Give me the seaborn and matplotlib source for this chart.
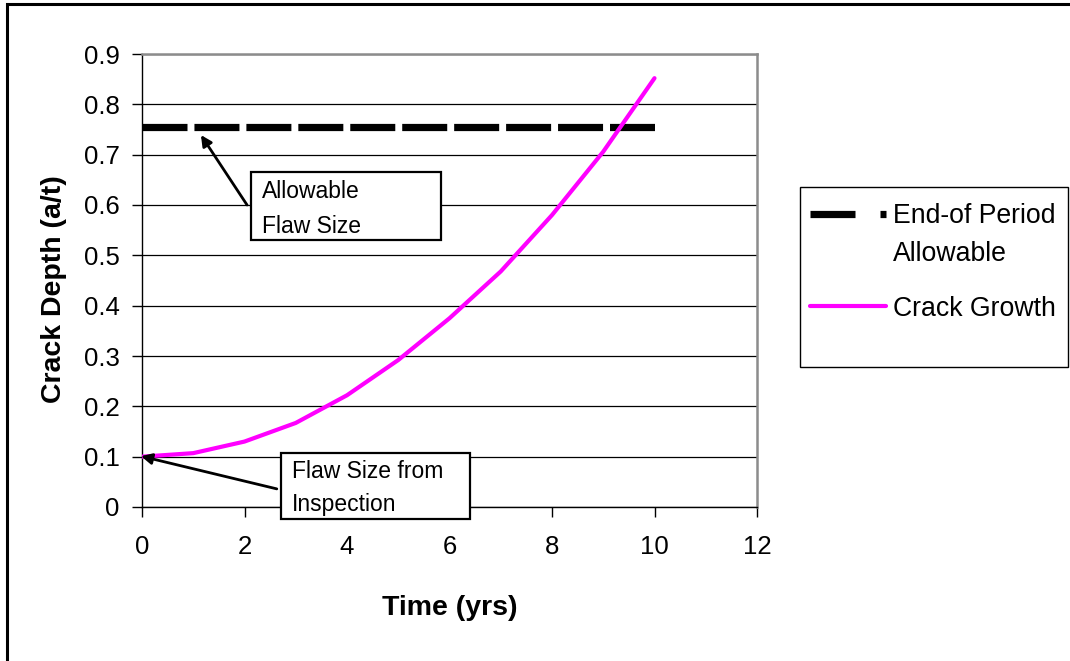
import matplotlib
matplotlib.use("Agg")
import matplotlib.pyplot as plt
from matplotlib.lines import Line2D
from matplotlib.patches import Rectangle
import seaborn as sns
import pandas as pd

# ---- data ----
time_yrs = [0, 1, 2, 3, 4, 5, 6, 7, 8, 9, 10]
crack_growth = [0.100, 0.107, 0.130, 0.167, 0.222, 0.292, 0.375, 0.468, 0.580, 0.706, 0.852]
allowable = [0.755] * 11
x_ticks = [0, 2, 4, 6, 8, 10, 12]
y_ticks = [0, 0.1, 0.2, 0.3, 0.4, 0.5, 0.6, 0.7, 0.8, 0.9]
y_tick_labels = ["0", "0.1", "0.2", "0.3", "0.4", "0.5", "0.6", "0.7", "0.8", "0.9"]

df = pd.DataFrame({"time": time_yrs, "crack": crack_growth, "allow": allowable})

sns.set_style("white")
plt.rcParams["font.family"] = ["Liberation Sans", "DejaVu Sans"]
plt.rcParams["lines.scale_dashes"] = False
plt.rcParams["text.color"] = "black"
plt.rcParams["axes.labelcolor"] = "black"
plt.rcParams["xtick.color"] = "black"
plt.rcParams["ytick.color"] = "black"

fig = plt.figure(figsize=(10.7, 6.61), dpi=100)
ax = fig.add_axes([142 / 1070, 1 - 507 / 661, 615 / 1070, 453 / 661])

# allowable dashed line
sns.lineplot(data=df, x="time", y="allow", ax=ax, color="black", linewidth=5.2,
             dashes=False, zorder=3)
ax.lines[-1].set_dashes((32.4, 5.0))
ax.lines[-1].set_dash_capstyle("butt")
# crack growth curve
sns.lineplot(data=df, x="time", y="crack", ax=ax, color="#FF00FF", linewidth=3.0, zorder=4)
ax.lines[-1].set_solid_capstyle("round")

ax.set_xlim(0, 12)
ax.set_ylim(0, 0.9)
ax.set_xticks(x_ticks)
ax.set_xticklabels([str(t) for t in x_ticks])
ax.set_yticks(y_ticks)
ax.set_yticklabels(y_tick_labels)

ax.yaxis.grid(True, color="black", linewidth=0.9)
ax.xaxis.grid(False)
ax.set_axisbelow(True)

for s in ["left", "bottom"]:
    ax.spines[s].set_color("black")
    ax.spines[s].set_linewidth(1.0)
for s in ["top", "right"]:
    ax.spines[s].set_color("#8c8c8c")
    ax.spines[s].set_linewidth(1.8)

ax.tick_params(axis="both", direction="out", length=7, width=1.0, color="black",
               labelsize=18.5, labelcolor="black")
ax.tick_params(axis="y", pad=9)
ax.tick_params(axis="x", pad=13)
ax.tick_params(left=True, bottom=True)

ax.set_xlabel("Time (yrs)", fontsize=20.5, fontweight="bold")
ax.set_ylabel("Crack Depth (a/t)", fontsize=20.5, fontweight="bold")
ax.xaxis.set_label_coords(0.5, -0.195)
ax.yaxis.set_label_coords(-0.122, 0.48)

# annotation boxes
ann_fs = 16.5
ax.add_patch(Rectangle((2.13, 0.5305), 3.70, 0.1351, facecolor="white", edgecolor="black",
                       linewidth=1.6, clip_on=False, zorder=5))
ax.text(2.35, 0.626, "Allowable", fontsize=ann_fs, va="center", ha="left", zorder=6)
ax.text(2.35, 0.558, "Flaw Size", fontsize=ann_fs, va="center", ha="left", zorder=6)
ax.annotate("", xy=(1.15, 0.739), xytext=(2.05, 0.600),
            arrowprops=dict(arrowstyle="-|>", color="black", lw=2.0, mutation_scale=16,
                            shrinkA=0, shrinkB=0), zorder=6, annotation_clip=False)

ax.add_patch(Rectangle((2.71, -0.024), 3.69, 0.131, facecolor="white", edgecolor="black",
                       linewidth=1.6, clip_on=False, zorder=5))
ax.text(2.93, 0.0715, "Flaw Size from", fontsize=ann_fs, va="center", ha="left", zorder=6)
ax.text(2.93, 0.004, "Inspection", fontsize=ann_fs, va="center", ha="left", zorder=6)
ax.annotate("", xy=(-0.02, 0.101), xytext=(2.63, 0.036),
            arrowprops=dict(arrowstyle="-|>", color="black", lw=2.0, mutation_scale=16,
                            shrinkA=0, shrinkB=0), zorder=6, annotation_clip=False)

# legend
fig.patches.append(Rectangle((800 / 1070, 1 - 367 / 661), 268 / 1070, 180 / 661,
                             transform=fig.transFigure, fill=False, edgecolor="black",
                             linewidth=1.0))
leg_fs = 19.2
h1 = Line2D([], [], color="black", linewidth=5.2, dashes=(32.4, 18.0), dash_capstyle="butt")
h2 = Line2D([], [], color="#FF00FF", linewidth=3.0)
leg = fig.legend(handles=[h1, h2], labels=["End-of Period", "Crack Growth"],
                 loc="upper left", bbox_to_anchor=(810 / 1070, 1 - 203 / 661),
                 frameon=False, fontsize=leg_fs, handlelength=2.85, handletextpad=0.25,
                 labelspacing=2.5, borderpad=0, borderaxespad=0)
fig.canvas.draw()
t0 = leg.get_texts()[0]
bb = t0.get_window_extent().transformed(fig.transFigure.inverted())
fig.text(bb.x0, bb.y0 - 38 / 661, "Allowable", fontsize=leg_fs, ha="left", va="bottom")

# outer frame
fig.patches.append(Rectangle((7 / 1070, -0.2), 1.3, 1.2 - 4 / 661, transform=fig.transFigure,
                             fill=False, edgecolor="black", linewidth=2.2))

fig.savefig("out.png", dpi=100)
